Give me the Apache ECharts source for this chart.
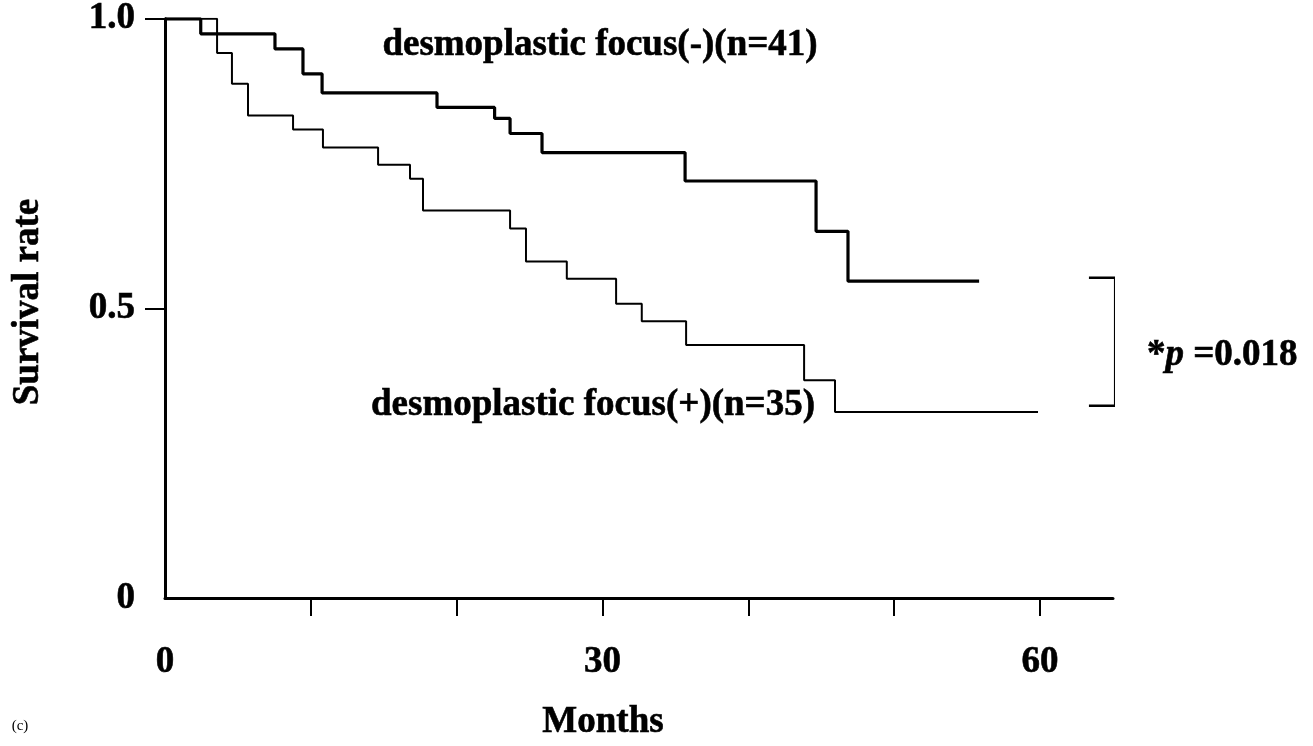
<!DOCTYPE html>
<html>
<head>
<meta charset="utf-8">
<script src="https://cdn.jsdelivr.net/npm/echarts@6/dist/echarts.min.js"></script>
<style>
html,body{margin:0;padding:0;background:#fff;}
#chart{width:1313px;height:746px;}
</style>
</head>
<body>
<div id="chart"></div>
<script>
// Kaplan-Meier steps: month of each drop and the survival level after it
const negMonths   = [0, 2.45, 7.54, 9.46, 10.77, 18.65, 22.6, 23.66, 25.85, 35.66, 44.64, 46.83, 55.82];
const negSurvival = [1.0, 0.974, 0.948, 0.905, 0.872, 0.847, 0.828, 0.802, 0.769, 0.72, 0.633, 0.547, 0.547];
const posMonths   = [0, 3.57, 4.59, 5.69, 8.78, 10.83, 14.61, 16.8, 17.69, 23.66, 24.75, 27.55, 30.93, 32.69, 35.73, 43.82, 45.94, 59.86];
const posSurvival = [1.0, 0.941, 0.888, 0.833, 0.809, 0.778, 0.748, 0.724, 0.669, 0.638, 0.581, 0.551, 0.508, 0.478, 0.437, 0.376, 0.321, 0.321];
const bracketMonths   = [63.35, 65.15, 65.15, 63.35];
const bracketSurvival = [0.553, 0.553, 0.332, 0.332];
const xTickValues = [10, 20, 30, 40, 50, 60];
const xTickLabels = [0, 30, 60];
const yTickValues = [0.5, 1.0];
const yTickLabels = ['0', '0.5', '1.0'];
const negLabel = 'desmoplastic focus(-)(n=41)';
const posLabel = 'desmoplastic focus(+)(n=35)';
const pText = '0.018';

const FONT = '"Liberation Serif", "DejaVu Serif", serif';
const zip = (a, b) => a.map((v, i) => [v, b[i]]);
const txtStyle = (size) => ({ font: 'bold ' + size + 'px ' + FONT, fill: '#000', stroke: '#000', lineWidth: 0.6 });

const chart = echarts.init(document.getElementById('chart'));
chart.setOption({
  animation: false,
  backgroundColor: '#fff',
  grid: { left: 165, right: 200, top: 18, bottom: 148, containLabel: false },
  xAxis: {
    type: 'value', min: 0, max: 65, interval: 10,
    axisLine: { show: true, lineStyle: { color: '#000', width: 3 } },
    axisTick: { show: true, length: 18, inside: false, customValues: xTickValues, lineStyle: { color: '#000', width: 2 } },
    splitLine: { show: false },
    axisLabel: {
      margin: 46, color: '#000', fontFamily: FONT, fontWeight: 'bold', fontSize: 37,
      textBorderColor: '#000', textBorderWidth: 0.6,
      customValues: xTickLabels,
      formatter: v => String(v)
    }
  },
  yAxis: {
    type: 'value', min: 0, max: 1, interval: 0.5,
    axisLine: { show: true, lineStyle: { color: '#000', width: 3 } },
    axisTick: { show: true, length: 20, inside: false, customValues: yTickValues, lineStyle: { color: '#000', width: 2 } },
    splitLine: { show: false },
    axisLabel: {
      margin: 30, color: '#000', fontFamily: FONT, fontWeight: 'bold', fontSize: 37,
      textBorderColor: '#000', textBorderWidth: 0.6,
      formatter: v => yTickLabels[Math.round(v * 2)]
    }
  },
  series: [
    {
      type: 'line', step: 'end', symbol: 'none', data: zip(negMonths, negSurvival),
      lineStyle: { color: '#000', width: 3.2 }
    },
    {
      type: 'line', step: 'end', symbol: 'none', data: zip(posMonths, posSurvival),
      lineStyle: { color: '#000', width: 2 }
    },
    {
      type: 'line', symbol: 'none', clip: false, data: zip(bracketMonths, bracketSurvival),
      lineStyle: { color: '#000', width: 2.5 }
    }
  ],
  graphic: [
    { type: 'text', x: 600, y: 45, style: Object.assign({ text: negLabel, align: 'center', verticalAlign: 'middle' }, txtStyle(37)) },
    { type: 'text', x: 593, y: 405, style: Object.assign({ text: posLabel, align: 'center', verticalAlign: 'middle' }, txtStyle(37)) },
    { type: 'text', x: 1147, y: 355, style: {
        text: '{s|*}{p|p}{s| =' + pText + '}', align: 'left', verticalAlign: 'middle',
        rich: {
          s: { font: 'bold 37px ' + FONT, fill: '#000', stroke: '#000', lineWidth: 0.6 },
          p: { font: 'italic bold 37px ' + FONT, fill: '#000', stroke: '#000', lineWidth: 0.6 }
        }
      } },
    { type: 'text', x: 28, y: 302, rotation: Math.PI / 2, style: Object.assign({ text: 'Survival rate', align: 'center', verticalAlign: 'middle' }, txtStyle(37)) },
    { type: 'text', x: 603, y: 722, style: Object.assign({ text: 'Months', align: 'center', verticalAlign: 'middle' }, txtStyle(37)) },
    { type: 'text', x: 20, y: 726, style: { text: '(c)', align: 'center', verticalAlign: 'middle', font: '15px ' + FONT, fill: '#000' } }
  ]
});
</script>
</body>
</html>
